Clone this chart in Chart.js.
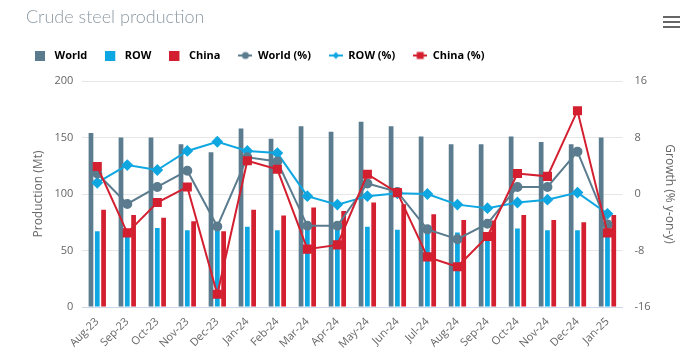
<!DOCTYPE html>
<html>
<head>
<meta charset="utf-8">
<script src="https://cdn.jsdelivr.net/npm/chart.js@4.4.1/dist/chart.umd.min.js"></script>
<style>
  body { margin: 0; background: #fff; font-family: "Open Sans", sans-serif; }
  #wrap { position: relative; width: 700px; height: 350px; }
  #titre { position: absolute; left: 26px; top: 5px; font-family: Lato, "Open Sans", sans-serif; font-size: 18px; font-weight: 300; color: #8c99a3; }
  #menu { position: absolute; left: 663px; top: 16px; width: 17px; }
  #menu span { display: block; height: 2px; background: #666; margin-bottom: 3px; }
</style>
</head>
<body>
<div id="wrap">
  <canvas id="myChart" width="700" height="350"></canvas>
  <div id="titre">Crude steel production</div>
  <div id="menu"><span></span><span></span><span></span></div>
</div>
<script>
// Aylar (x ekseni etiketleri)
const months = ['Aug-23', 'Sep-23', 'Oct-23', 'Nov-23', 'Dec-23', 'Jan-24', 'Feb-24', 'Mar-24', 'Apr-24',
    'May-24', 'Jun-24', 'Jul-24', 'Aug-24', 'Sep-24', 'Oct-24', 'Nov-24', 'Dec-24', 'Jan-25'];

// Üretim (Mt) - çubuklar
const worldMt = [154, 150, 150, 144, 137, 158, 149, 160, 155, 164, 160, 151, 144, 144, 151, 146, 144, 150];
const rowMt   = [67, 66, 70, 68, 68, 71, 68, 70, 70, 71, 68.5, 66.5, 66, 63, 69.5, 68, 68, 64];
const chinaMt = [86, 81.5, 79, 76, 67, 86, 81, 88, 85, 92.5, 91, 82, 77, 76.5, 81.5, 77, 75, 81.5];

// Yıllık büyüme (%) - çizgiler
const worldPct = [2.9, -1.4, 1.0, 3.3, -4.6, 5.2, 4.6, -4.5, -4.5, 1.5, 0.3, -5.0, -6.4, -4.2, 1.0, 1.0, 6.0, -4.3];
const rowPct   = [1.6, 4.1, 3.4, 6.1, 7.4, 6.1, 5.8, -0.3, -1.5, -0.3, 0.1, 0.0, -1.5, -2.0, -1.2, -0.8, 0.2, -2.8];
const chinaPct = [3.9, -5.5, -1.2, 1.0, -14.2, 4.7, 3.5, -7.8, -7.2, 2.8, 0.2, -8.9, -10.3, -6.0, 2.9, 2.5, 11.8, -5.5];

// Renkler
const cWorld = '#5b7b8e';
const cRow = '#0fa7e1';
const cChina = '#d31f2f';

// Lejant için küçük ikonlar (kare ya da çizgi + işaret)
function legendIcon(color, kind, marker) {
    const c = document.createElement('canvas');
    c.width = 14; c.height = 10;
    const g = c.getContext('2d');
    g.fillStyle = color;
    g.strokeStyle = color;
    if (kind === 'bar') {
        g.fillRect(0, 0, 10, 10);
        return c;
    }
    g.lineWidth = 2;
    g.beginPath(); g.moveTo(0, 5); g.lineTo(14, 5); g.stroke();
    g.beginPath();
    if (marker === 'circle') g.arc(7, 5, 3.5, 0, Math.PI * 2);
    else if (marker === 'diamond') { g.moveTo(7, 1.5); g.lineTo(10.5, 5); g.lineTo(7, 8.5); g.lineTo(3.5, 5); g.closePath(); }
    else g.rect(3.5, 1.5, 7, 7);
    g.fill();
    return c;
}

const barDefaults = { type: 'bar', yAxisID: 'y', order: 2, borderWidth: 0, categoryPercentage: 0.63, barPercentage: 0.75 };
const lineDefaults = { type: 'line', yAxisID: 'y1', order: 1, borderWidth: 2, fill: false, tension: 0 };

const datasets = [
    { ...barDefaults, label: 'World', data: worldMt, backgroundColor: cWorld, icon: legendIcon(cWorld, 'bar') },
    { ...barDefaults, label: 'ROW', data: rowMt, backgroundColor: cRow, icon: legendIcon(cRow, 'bar') },
    { ...barDefaults, label: 'China', data: chinaMt, backgroundColor: cChina, icon: legendIcon(cChina, 'bar') },
    { ...lineDefaults, label: 'World (%)', data: worldPct, borderColor: cWorld, backgroundColor: cWorld,
        pointStyle: 'circle', pointRadius: 4, icon: legendIcon(cWorld, 'line', 'circle') },
    { ...lineDefaults, label: 'ROW (%)', data: rowPct, borderColor: cRow, backgroundColor: cRow,
        pointStyle: 'rectRot', pointRadius: 4.5, icon: legendIcon(cRow, 'line', 'diamond') },
    { ...lineDefaults, label: 'China (%)', data: chinaPct, borderColor: cChina, backgroundColor: cChina,
        pointStyle: 'rect', pointRadius: 5, order: 0, icon: legendIcon(cChina, 'line', 'rect') }
];

const tickFont = { family: 'Open Sans', size: 11 };

// Lejant ile grafik alanı arasına biraz boşluk ekler
const legendMargin = {
    id: 'legendMargin',
    beforeInit(chart) {
        const fit = chart.legend.fit;
        chart.legend.fit = function () {
            fit.bind(chart.legend)();
            this.height += 10;
        };
    }
};

new Chart(document.getElementById('myChart'), {
    data: { labels: months, datasets: datasets },
    plugins: [legendMargin],
    options: {
        responsive: false,
        animation: false,
        layout: { padding: { left: 17, right: 10, top: 32, bottom: -1 } },
        plugins: {
            tooltip: { enabled: false },
            legend: {
                align: 'start',
                labels: {
                    usePointStyle: true,
                    pointStyleWidth: 14,
                    boxHeight: 10,
                    padding: 18,
                    color: '#333',
                    font: { family: 'Open Sans', size: 11, weight: 'bold' },
                    // Veri kümelerinin orijinal sırasıyla lejant
                    generateLabels: chart => chart.data.datasets.map((ds, i) => ({
                        text: ds.label,
                        pointStyle: ds.icon,
                        fillStyle: ds.backgroundColor,
                        strokeStyle: ds.backgroundColor,
                        lineWidth: 0,
                        hidden: false,
                        datasetIndex: i
                    }))
                }
            }
        },
        scales: {
            x: {
                grid: { display: false },
                border: { color: '#ccd6eb' },
                ticks: { color: '#666', font: tickFont, minRotation: 45, maxRotation: 45, padding: 0 }
            },
            y: {
                position: 'left',
                min: 0, max: 200,
                ticks: { stepSize: 50, color: '#666', font: tickFont, padding: 9 },
                grid: { color: '#e6e6e6', drawTicks: false },
                border: { display: false },
                title: { display: true, text: 'Production (Mt)', color: '#666', padding: { top: 14, bottom: 0 },
                    font: { family: 'Open Sans', size: 12 } }
            },
            y1: {
                position: 'right',
                min: -16, max: 16,
                ticks: { stepSize: 8, color: '#666', font: tickFont, padding: 12 },
                grid: { display: false, drawTicks: false },
                border: { display: false },
                title: { display: true, text: 'Growth (% y-on-y)', color: '#666', padding: { top: 13, bottom: 0 },
                    font: { family: 'Open Sans', size: 12 } }
            }
        }
    }
});
</script>
</body>
</html>
